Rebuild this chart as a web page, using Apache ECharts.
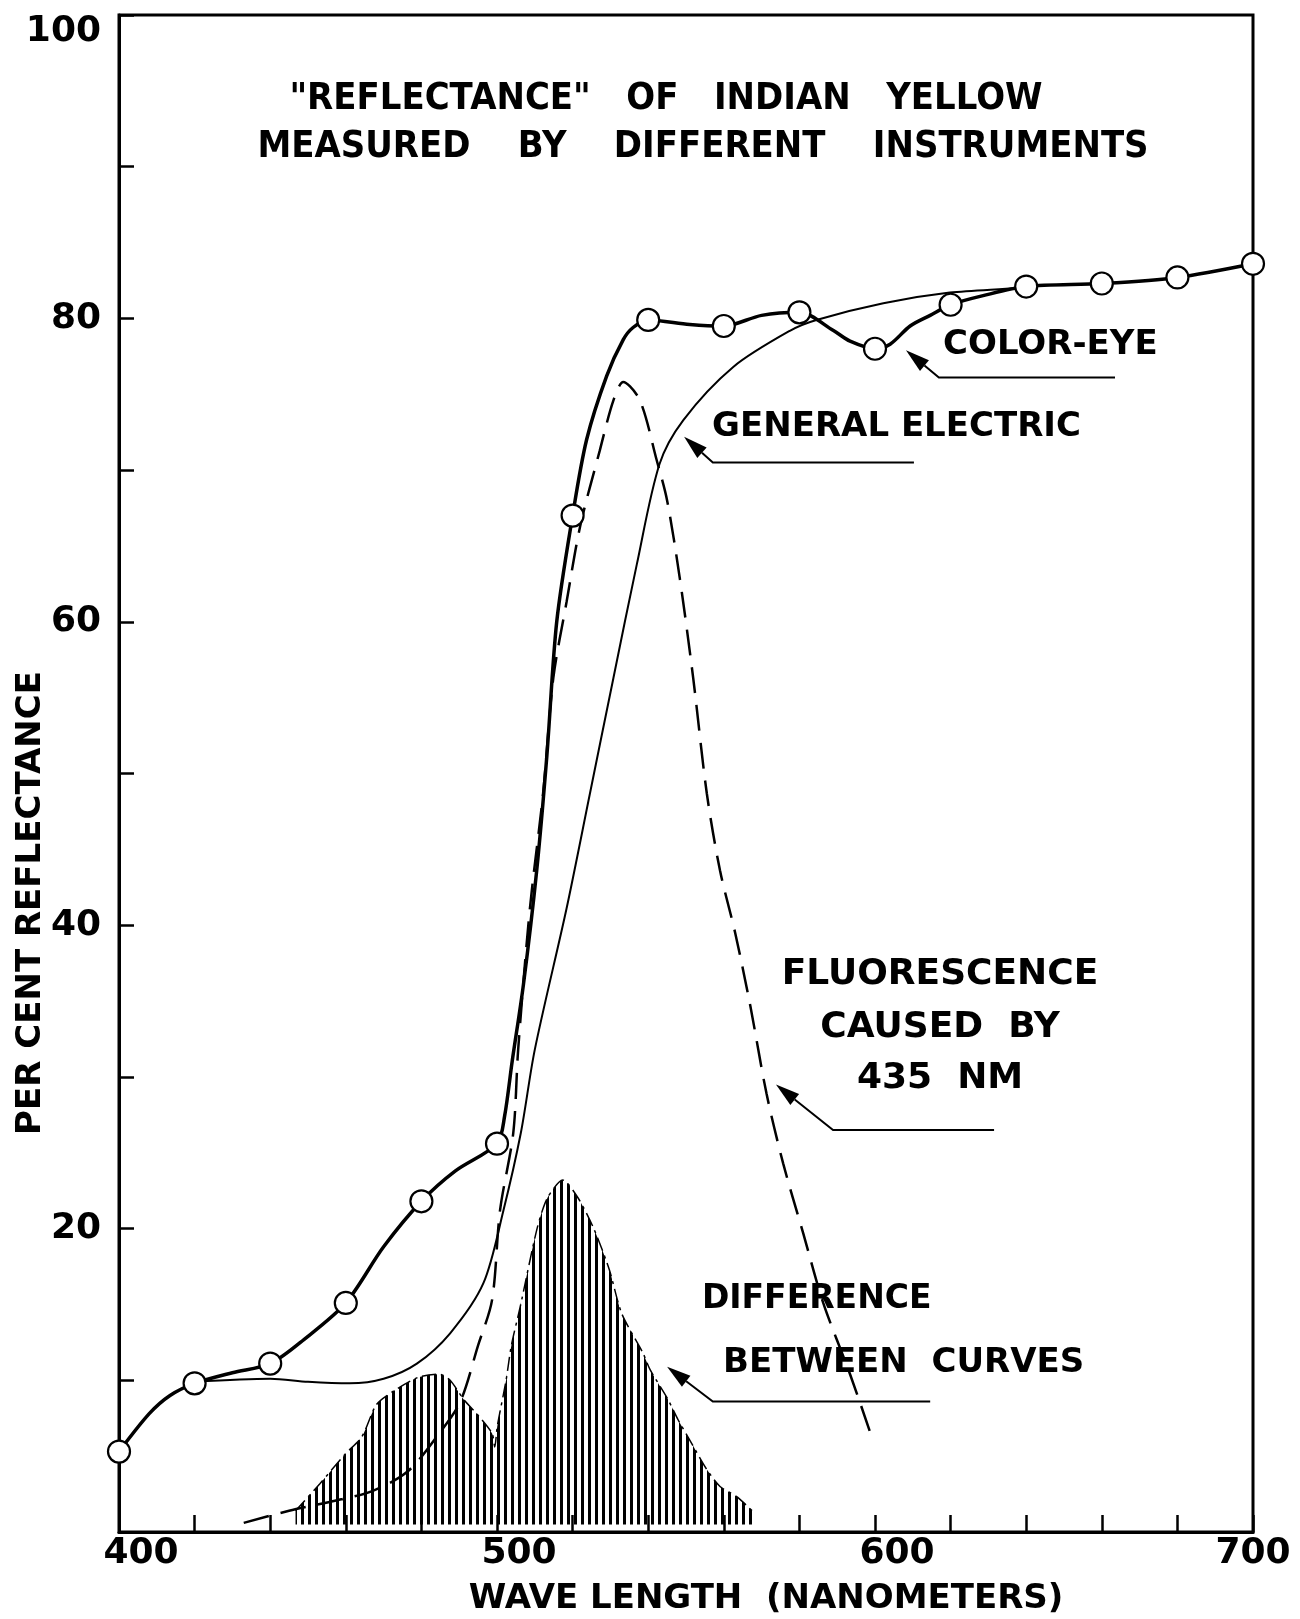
<!DOCTYPE html>
<html>
<head>
<meta charset="utf-8">
<script src="https://cdn.jsdelivr.net/npm/echarts@6/dist/echarts.min.js"></script>
<style>
  html, body { margin: 0; padding: 0; background: #fff; }
  #chart { width: 1300px; height: 1619px; }
</style>
</head>
<body>
<div id="chart"></div>
<script>
// Color-Eye readings (open circles), wavelength nm / per cent reflectance
var ceWave = [400, 420, 440, 460, 480, 500, 520, 540, 560, 580, 600, 620, 640, 660, 680, 700];
var ceRefl = [5.3, 9.8, 11.1, 15.1, 21.8, 25.6, 67.0, 79.9, 79.5, 80.4, 78.0, 80.9, 82.1, 82.3, 82.7, 83.6];

// Color-Eye curve as drawn through the circles
var ceLineWave = [400, 408, 413.5, 420, 430, 440, 449, 460, 470, 480, 489, 500, 502, 504, 507, 510.5, 513.2, 515.8, 520,
  523.7, 529, 533.4, 536, 540, 551, 560, 570, 580, 589, 593.4, 600, 604, 609.3, 614.6, 620, 628.6, 640, 660, 680, 700];
var ceLineRefl = [5.3, 7.8, 9.0, 9.8, 10.5, 11.1, 12.7, 15.1, 18.8, 21.8, 23.8, 25.6, 27.4, 31.0, 36.1, 43.6, 51.2, 60.0, 67.0,
  72.0, 76.2, 78.6, 79.4, 79.9, 79.6, 79.5, 80.2, 80.4, 79.2, 78.5, 78.0, 78.3, 79.5, 80.2, 80.9, 81.5, 82.1, 82.3, 82.7, 83.6];

// General Electric curve (thin line)
var geWave = [420, 440, 450, 461, 470, 478.8, 487.6, 496.4, 501.7, 506.3, 510, 518.4, 524.6, 530.8, 537, 543, 549.3,
  562.5, 577.6, 584.5, 602.2, 619.8, 637.4, 640];
var geRefl = [9.9, 10.1, 9.9, 9.8, 10.1, 11.1, 13.1, 16.4, 21.2, 26.3, 31.8, 41.1, 48.7, 56.3, 63.8, 70.4, 73.3,
  76.8, 79.2, 79.9, 81.0, 81.7, 82.0, 82.1];

// fluorescence caused by 435 nm (dashed)
var flWave = [433, 445, 456, 467, 476.4, 484.7, 490.3, 495, 498.7, 500.8, 504.3, 505.6, 508.7, 512.2, 514.9, 518.4,
  522, 527.2, 530.8, 533.4, 537.8, 542.2, 545, 548.4, 551.9, 555.5, 559, 563, 567, 571.3, 575.7, 581, 586.3, 593.4, 599.5];
var flRefl = [0.6, 1.4, 2.0, 2.7, 4.0, 6.5, 8.6, 12.3, 15.3, 21.2, 26.3, 31.8, 41.1, 48.7, 56.3, 61.3,
  66.3, 71.3, 74.6, 75.8, 74.6, 70.7, 68.0, 62.8, 56.3, 48.7, 43.6, 39.5, 34.7, 28.9, 24.3, 19.7, 15.1, 10.4, 6.0];

// difference between curves (hatched humps)
var diffWave = [446.7, 453.2, 459.7, 464.3, 468.1, 472.7, 479.2, 484.8, 487.6, 491.3, 495, 498.7, 499.4, 500.1, 502.4,
  503.8, 506.1, 510.6, 513.3, 517.4, 521.5, 525.6, 529.7, 533, 538.6, 540.5, 545.1, 547.9, 551.6, 555.3, 559, 563.6, 568.3];
var diffRefl = [1.4, 3.2, 5.1, 6.3, 8.4, 9.3, 10.2, 10.4, 10.0, 8.7, 7.7, 6.5, 5.6, 7.0, 10.0,
  12.3, 14.8, 20.0, 22.0, 23.2, 22.0, 20.0, 17.3, 14.4, 11.8, 10.7, 8.8, 7.4, 5.8, 4.2, 3.0, 2.3, 1.2];
var diffBase = 0.5;

var xTickLabels = [400, 500, 600, 700];
var yTickLabels = [20, 40, 60, 80, 100];

function pairs(xs, ys) {
  return xs.map(function (x, i) { return [x, ys[i]]; });
}

var FONT = '"DejaVu Sans", sans-serif';

// vertical hatching for the difference area
var hatch = document.createElement('canvas');
hatch.width = 7;
hatch.height = 4;
var hctx = hatch.getContext('2d');
hctx.fillStyle = '#000';
hctx.fillRect(0, 0, 3, 4);

var chart = echarts.init(document.getElementById('chart'));

chart.setOption({
  animation: false,
  backgroundColor: '#fff',
  grid: { left: 119, right: 47, top: 15, bottom: 87, show: true, borderColor: '#000', borderWidth: 3 },
  xAxis: {
    type: 'value', min: 400, max: 700, interval: 20,
    axisLine: { onZero: false, lineStyle: { color: '#000', width: 3 } },
    axisTick: { inside: true, length: 17, lineStyle: { color: '#000', width: 2.5 } },
    splitLine: { show: false },
    axisLabel: {
      margin: 4, showMinLabel: true, showMaxLabel: true,
      color: '#000', fontFamily: FONT, fontWeight: 'bold', fontSize: 36,
      formatter: function (v) {
        if (xTickLabels.indexOf(v) < 0) return '';
        return v === 700 ? '{e|' + v + '}' : '{s|' + v + '}';
      },
      rich: {
        s: { padding: [0, 0, 0, 44], color: '#000', fontFamily: FONT, fontWeight: 'bold', fontSize: 36 },
        e: { color: '#000', fontFamily: FONT, fontWeight: 'bold', fontSize: 36 }
      }
    }
  },
  yAxis: {
    type: 'value', min: 0, max: 100, interval: 10,
    axisLine: { onZero: false, lineStyle: { color: '#000', width: 3 } },
    axisTick: { inside: true, length: 15, lineStyle: { color: '#000', width: 2.5 } },
    splitLine: { show: false },
    axisLabel: {
      margin: 18, showMinLabel: true, showMaxLabel: true,
      color: '#000', fontFamily: FONT, fontWeight: 'bold', fontSize: 36,
      formatter: function (v) {
        if (yTickLabels.indexOf(v) < 0) return '';
        return v === 100 ? '{t|' + v + '}' : '{n|' + v + '}';
      },
      rich: {
        t: { padding: [34, 0, 0, 0], color: '#000', fontFamily: FONT, fontWeight: 'bold', fontSize: 36 },
        n: { color: '#000', fontFamily: FONT, fontWeight: 'bold', fontSize: 36 }
      }
    }
  },
  series: [
    {
      name: 'Difference', type: 'line', data: pairs(diffWave, diffRefl),
      smooth: 0.25, showSymbol: false, z: 1,
      lineStyle: { color: '#000', width: 1.5, type: [14, 5, 3, 5] },
      areaStyle: { origin: diffBase, color: { image: hatch, repeat: 'repeat' }, opacity: 1 }
    },
    {
      name: 'General Electric', type: 'line', data: pairs(geWave, geRefl),
      smooth: 0.3, showSymbol: false, z: 2,
      lineStyle: { color: '#000', width: 2 }
    },
    {
      name: 'Fluorescence', type: 'line', data: pairs(flWave, flRefl),
      smooth: 0.3, showSymbol: false, z: 3,
      lineStyle: { color: '#000', width: 2.5, type: [26, 12] }
    },
    {
      name: 'Color-Eye curve', type: 'line', data: pairs(ceLineWave, ceLineRefl),
      smooth: 0.3, showSymbol: false, z: 4,
      lineStyle: { color: '#000', width: 3.5 }
    },
    {
      name: 'Color-Eye', type: 'scatter', data: pairs(ceWave, ceRefl),
      symbol: 'circle', symbolSize: 22, z: 5,
      itemStyle: { color: '#fff', borderColor: '#000', borderWidth: 2.2, opacity: 1 }
    }
  ]
});

// annotations, positioned in data units
var arrows = [
  { tip: [608.2, 77.9], bend: [616.9, 76.1], end: [663.5, 76.1] },
  { tip: [549.5, 72.2], bend: [557.1, 70.5], end: [610.3, 70.5] },
  { tip: [573.8, 29.5], bend: [588.9, 26.5], end: [631.5, 26.5] },
  { tip: [545.0, 10.9], bend: [557.1, 8.6], end: [614.6, 8.6] }
];
var notes = [
  { text: 'COLOR-EYE', at: [618.0, 78.25], align: 'left', size: 34 },
  { text: 'GENERAL ELECTRIC', at: [556.9, 72.84], align: 'left', size: 34 },
  { text: 'FLUORESCENCE', at: [617.2, 36.72], align: 'center', size: 36 },
  { text: 'CAUSED  BY', at: [617.2, 33.22], align: 'center', size: 36 },
  { text: '435  NM', at: [617.2, 29.86], align: 'center', size: 36 },
  { text: 'DIFFERENCE', at: [554.2, 15.36], align: 'left', size: 33 },
  { text: 'BETWEEN  CURVES', at: [559.8, 11.14], align: 'left', size: 34 }
];

function px(p) { return chart.convertToPixel({ gridIndex: 0 }, p); }

var g = [];
arrows.forEach(function (a) {
  var t = px(a.tip), b = px(a.bend), e = px(a.end);
  var dx = t[0] - b[0], dy = t[1] - b[1];
  var L = Math.sqrt(dx * dx + dy * dy);
  dx /= L; dy /= L;
  var hl = 24, hw = 7;
  var base = [t[0] - dx * hl, t[1] - dy * hl];
  g.push({ type: 'polyline', z: 10, shape: { points: [base, b, e] }, style: { stroke: '#000', lineWidth: 2, fill: null } });
  g.push({ type: 'polygon', z: 10, shape: { points: [t, [base[0] - dy * hw, base[1] + dx * hw], [base[0] + dy * hw, base[1] - dx * hw]] },
    style: { fill: '#000' } });
});
notes.forEach(function (n) {
  var p = px(n.at);
  g.push({ type: 'text', z: 10, x: p[0], y: p[1],
    style: { text: n.text, fill: '#000', font: 'bold ' + n.size + 'px ' + FONT, textAlign: n.align, textVerticalAlign: 'middle' } });
});

// title and axis names
g.push({ type: 'text', z: 10, x: 666, y: 99, scaleY: 1.12,
  style: { text: '"REFLECTANCE"   OF   INDIAN   YELLOW', fill: '#000', font: 'bold 34px ' + FONT, textAlign: 'center', textVerticalAlign: 'middle' } });
g.push({ type: 'text', z: 10, x: 703, y: 147, scaleY: 1.12,
  style: { text: 'MEASURED    BY    DIFFERENT    INSTRUMENTS', fill: '#000', font: 'bold 34px ' + FONT, textAlign: 'center', textVerticalAlign: 'middle' } });
g.push({ type: 'text', z: 10, x: 766, y: 1599,
  style: { text: 'WAVE LENGTH  (NANOMETERS)', fill: '#000', font: 'bold 34px ' + FONT, textAlign: 'center', textVerticalAlign: 'middle' } });
g.push({ type: 'text', z: 10, x: 31, y: 903, rotation: Math.PI / 2,
  style: { text: 'PER CENT REFLECTANCE', fill: '#000', font: 'bold 34px ' + FONT, textAlign: 'center', textVerticalAlign: 'middle' } });

chart.setOption({ graphic: g });
</script>
</body>
</html>
